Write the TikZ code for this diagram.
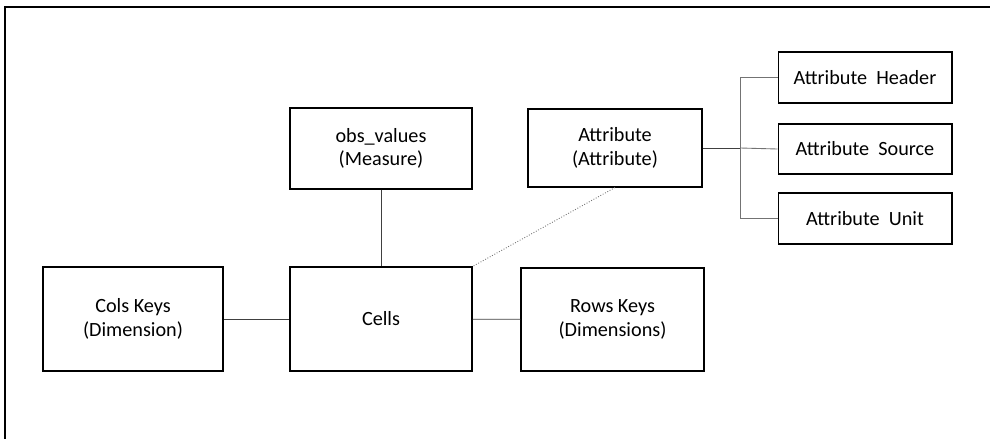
\documentclass[tikz,border=0pt]{standalone}
\usepackage{fontspec}
\setmainfont{Carlito}
\begin{document}
\begin{tikzpicture}[x=0.02cm, y=-0.02cm,
    box/.style={draw=black, line width=0.6pt, align=center, inner sep=0pt,
        font=\fontsize{11.5}{13.5}\selectfont},
    link/.style={draw=black!75, line width=0.5pt},
    busline/.style={draw=black!55, line width=0.5pt}]
            \useasboundingbox (0,0) rectangle (990,439);
            \draw[line width=0.8pt] (5,439) -- (5,7) -- (990,7);
            % boxes
            \node[box, minimum width=3.64cm, minimum height=1.62cm] (obs) at (381,148.5) {obs\_values\\(Measure)};
            \node[box, minimum width=3.48cm, minimum height=1.56cm] (attr) at (615,148) {Attribute\\(Attribute)};
            \node[box, minimum width=3.48cm, minimum height=1.02cm] (header) at (865,77.5) {Attribute\ \ Header};
            \node[box, minimum width=3.48cm, minimum height=1.00cm] (source) at (865,149) {Attribute\ \ Source};
            \node[box, minimum width=3.48cm, minimum height=1.02cm] (unit) at (865,218.5) {Attribute\ \ Unit};
            \node[box, minimum width=3.60cm, minimum height=2.08cm] (cols) at (133,319) {Cols Keys\\(Dimension)};
            \node[box, minimum width=3.64cm, minimum height=2.08cm] (cells) at (381,319) {Cells};
            \node[box, minimum width=3.66cm, minimum height=2.06cm] (rows) at (612.5,319.5) {Rows Keys\\(Dimensions)};
            % connectors
            \draw[link] (obs) -- (cells);
            \draw[link] (cols) -- (cells);
            \draw[link] (cells) -- (rows);
            \draw[busline, densely dotted] (attr.south) -- (cells.north east);
            \coordinate (bus) at (740,148);
            \draw[link] (attr.east) -- (bus);
            \draw[busline] (bus) |- (header.west);
            \draw[busline] (bus) -- (source.west);
            \draw[busline] (bus) |- (unit.west);
\end{tikzpicture}
\end{document}
